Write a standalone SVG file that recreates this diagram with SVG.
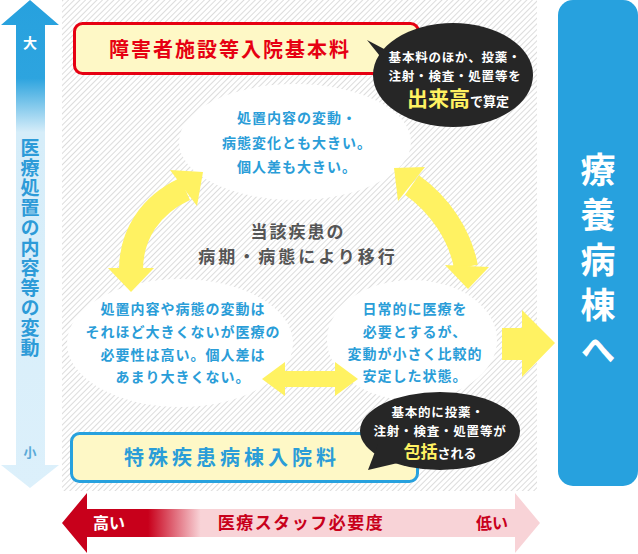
<svg xmlns="http://www.w3.org/2000/svg" width="638" height="554" viewBox="0 0 638 554">
<defs>
<pattern id="hatch" width="4" height="4" patternUnits="userSpaceOnUse" patternTransform="rotate(45)">
<rect width="4" height="4" fill="#ffffff"/>
<line x1="0" y1="0" x2="0" y2="4" stroke="#c9c9c9" stroke-width="1.3"/>
</pattern>
<linearGradient id="vgrad" gradientUnits="userSpaceOnUse" x1="0" y1="0" x2="0" y2="490">
<stop offset="0" stop-color="#27a1de"/>
<stop offset="0.16" stop-color="#2da4df"/>
<stop offset="0.27" stop-color="#d6edf9"/>
<stop offset="1" stop-color="#dcf0fb"/>
</linearGradient>
<linearGradient id="hgrad" gradientUnits="userSpaceOnUse" x1="62" y1="0" x2="540" y2="0">
<stop offset="0" stop-color="#c8001b"/>
<stop offset="0.18" stop-color="#c8001b"/>
<stop offset="0.29" stop-color="#f8d3d7"/>
<stop offset="1" stop-color="#f8d3d7"/>
</linearGradient>
<style>
text{font-family:"Noto Sans CJK JP","Noto Sans",sans-serif;font-weight:bold;}
.blue{fill:#2a9dd8;font-size:14px;letter-spacing:1px;text-anchor:middle;}
.wht{fill:#ffffff;font-size:12.5px;letter-spacing:0.8px;text-anchor:middle;}
.arrow{fill:#fff262;}
.shaft{fill:none;stroke:#fff262;stroke-width:24;}
.bubble{fill:#262626;}
.cloud{fill:#ffffff;}
</style>
</defs>

<rect id="background" x="62" y="0" width="475" height="491" fill="url(#hatch)"/>

<g id="axis-vertical">
<polygon points="30,0 59,25 45,25 45,465 59,465 30,488 1,465 16,465 16,25 1,25" fill="url(#vgrad)"/>
<text x="30" y="48" fill="#ffffff" font-size="14" text-anchor="middle">大</text>
<text x="30" y="138" fill="#2d9bd8" font-size="19" style="writing-mode:vertical-rl;letter-spacing:1px">医療処置の内容等の変動</text>
<text x="30" y="457" fill="#5aaad8" font-size="13" text-anchor="middle">小</text>
</g>

<g id="axis-horizontal">
<polygon points="62,523 87,493 87,509 515,509 515,493 540,523 515,553 515,537 87,537 87,553" fill="url(#hgrad)"/>
<text x="109" y="529" fill="#ffffff" font-size="16" text-anchor="middle">高い</text>
<text x="301" y="529" fill="#c8001b" font-size="17" text-anchor="middle" style="letter-spacing:1.5px">医療スタッフ必要度</text>
<text x="492" y="529" fill="#c8001b" font-size="16" text-anchor="middle">低い</text>
</g>

<g id="ryoyo-box">
<rect x="558" y="0" width="80" height="486" rx="15" fill="#27a1de"/>
<text x="598" y="152" fill="#ffffff" font-size="35" style="writing-mode:vertical-rl;letter-spacing:10px">療養病棟へ</text>
</g>

<g id="cloud-top">
<ellipse class="cloud" cx="295" cy="142" rx="116" ry="58"/>
<text class="blue" x="297" y="123">処置内容の変動・</text>
<text class="blue" x="297" y="148">病態変化とも大きい。</text>
<text class="blue" x="297" y="172">個人差も大きい。</text>
</g>

<g id="cloud-left">
<ellipse class="cloud" cx="180" cy="343" rx="113" ry="64"/>
<text class="blue" x="183" y="314">処置内容や病態の変動は</text>
<text class="blue" x="183" y="337">それほど大きくないが医療の</text>
<text class="blue" x="183" y="360">必要性は高い。個人差は</text>
<text class="blue" x="183" y="382">あまり大きくない。</text>
</g>

<g id="cloud-right">
<ellipse class="cloud" cx="412" cy="340" rx="85" ry="60"/>
<text class="blue" x="415" y="314">日常的に医療を</text>
<text class="blue" x="415" y="337">必要とするが、</text>
<text class="blue" x="415" y="359">変動が小さく比較的</text>
<text class="blue" x="415" y="381">安定した状態。</text>
</g>

<g id="connectors">
<path class="shaft" d="M131,270 C131,235 150,205 185,189"/>
<polygon class="arrow" points="203,172 170,170 197,206"/>
<polygon class="arrow" points="131,292 108,268 154,268"/>
<path class="shaft" d="M466,267 C460,235 440,205 412,185"/>
<polygon class="arrow" points="394,168 425,167 398,201"/>
<polygon class="arrow" points="468,289 445,265 489,267"/>
<polygon class="arrow" points="262,379 285,362 285,371 335,371 335,362 358,379 335,396 335,387 285,387 285,396"/>
<polygon class="arrow" points="502,328 522,328 522,310 555,343 522,377 522,360 502,360"/>
</g>

<g id="transition-label">
<text x="298" y="238" fill="#555555" font-size="17" text-anchor="middle" style="letter-spacing:2px">当該疾患の</text>
<text x="298" y="263" fill="#555555" font-size="17" text-anchor="middle" style="letter-spacing:3px">病期・病態により移行</text>
</g>

<g id="shogai-box">
<rect x="74.5" y="23.5" width="344" height="50" rx="8" fill="#fef8c6" stroke="#e60012" stroke-width="3"/>
<text x="230" y="57" fill="#e60012" font-size="20" text-anchor="middle" style="letter-spacing:2px">障害者施設等入院基本料</text>
</g>

<g id="bubble-top">
<ellipse class="bubble" cx="453" cy="75" rx="80" ry="52"/>
<polygon class="bubble" points="367,40 386,50 396,76"/>
<text class="wht" x="455" y="62">基本料のほか、投薬・</text>
<text class="wht" x="455" y="80.5">注射・検査・処置等を</text>
<text x="458" y="106" fill="#ffffff" font-size="13" text-anchor="middle"><tspan fill="#fff262" font-size="21">出来高</tspan>で算定</text>
</g>

<g id="tokushu-box">
<rect x="71.5" y="433.5" width="346" height="48" rx="8" fill="#fef8c6" stroke="#27a1de" stroke-width="3"/>
<text x="232" y="465" fill="#2a9dd8" font-size="20" text-anchor="middle" style="letter-spacing:4px">特殊疾患病棟入院料</text>
</g>

<g id="bubble-bottom">
<ellipse class="bubble" cx="440" cy="431" rx="80" ry="39"/>
<polygon class="bubble" points="368,470 378,444 402,462"/>
<text class="wht" x="438" y="417">基本的に投薬・</text>
<text class="wht" x="440" y="436">注射・検査・処置等が</text>
<text x="440" y="458" fill="#ffffff" font-size="13" text-anchor="middle"><tspan fill="#fff262" font-size="17">包括</tspan>される</text>
</g>
</svg>
